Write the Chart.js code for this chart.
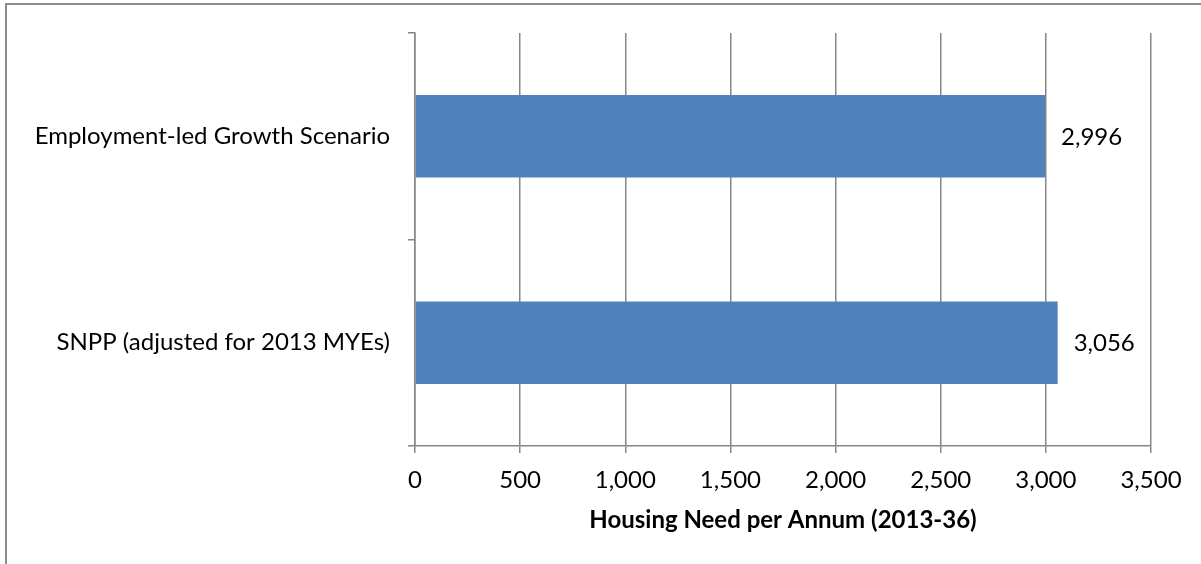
<!DOCTYPE html>
<html>
<head>
<meta charset="utf-8">
<script src="https://cdn.jsdelivr.net/npm/chart.js@4"></script>
<style>
  html, body { margin: 0; padding: 0; background: #fff; overflow: hidden; }
  #frame { position: absolute; left: 5px; top: 3px; width: 1210px; height: 580px; border: 2px solid #8c8c8c; box-sizing: border-box; }
  #wrap { position: absolute; left: 0; top: 0; width: 1201px; height: 564px; }
</style>
</head>
<body>
<div id="frame"></div>
<div id="wrap"><canvas id="needChart"></canvas></div>
<script>
// Chart values
const scenarios = ['Employment-led Growth Scenario', 'SNPP (adjusted for 2013 MYEs)'];
const housingNeed = [2996, 3056];
const xTicks = [0, 500, 1000, 1500, 2000, 2500, 3000, 3500];
const xTitle = 'Housing Need per Annum (2013-36)';

const gridGrey = '#868686';
const fontName = 'Lato, "Open Sans", sans-serif';

// Draw the value next to each bar
const valueLabels = {
    id: 'valueLabels',
    afterDatasetsDraw(chart) {
        const ctx = chart.ctx;
        const meta = chart.getDatasetMeta(0);
        ctx.save();
        ctx.font = '24px ' + fontName;
        ctx.fillStyle = '#000';
        ctx.textAlign = 'left';
        ctx.textBaseline = 'middle';
        meta.data.forEach((bar, i) => {
            ctx.fillText(housingNeed[i].toLocaleString('en-GB'), bar.x + 16, bar.y + 1);
        });
        ctx.restore();
    }
};

const ctx = document.getElementById('needChart').getContext('2d');
new Chart(ctx, {
    type: 'bar',
    data: {
        labels: scenarios,
        datasets: [{
            data: housingNeed,
            backgroundColor: '#4F81BD',
            barPercentage: 0.8,
            categoryPercentage: 0.5
        }]
    },
    options: {
        indexAxis: 'y',
        responsive: true,
        maintainAspectRatio: false,
        animation: false,
        layout: { padding: { top: 33, right: 50, left: 0, bottom: 0 } },
        plugins: {
            legend: { display: false },
            tooltip: { enabled: false }
        },
        scales: {
            x: {
                min: 0,
                max: 3500,
                afterBuildTicks: axis => { axis.ticks = xTicks.map(v => ({ value: v })); },
                afterFit: axis => { axis.height = 118; },
                grid: { color: gridGrey, lineWidth: 1.5, tickLength: 7, drawTicks: true },
                border: { color: gridGrey, width: 1.5 },
                ticks: {
                    color: '#000',
                    font: { family: fontName, size: 24 },
                    padding: 13,
                    callback: v => v.toLocaleString('en-GB')
                },
                title: {
                    display: true,
                    text: xTitle,
                    color: '#000',
                    font: { family: fontName, size: 24, weight: 'bold' },
                    padding: { top: 0, bottom: 29 }
                }
            },
            y: {
                afterFit: axis => { axis.width = 415; },
                grid: { offset: true, drawOnChartArea: false, drawTicks: true, tickLength: 7, color: gridGrey, lineWidth: 1.5 },
                border: { color: gridGrey, width: 1.5 },
                ticks: {
                    color: '#000',
                    font: { family: fontName, size: 24 },
                    padding: 18
                }
            }
        }
    },
    plugins: [valueLabels]
});
</script>
</body>
</html>
